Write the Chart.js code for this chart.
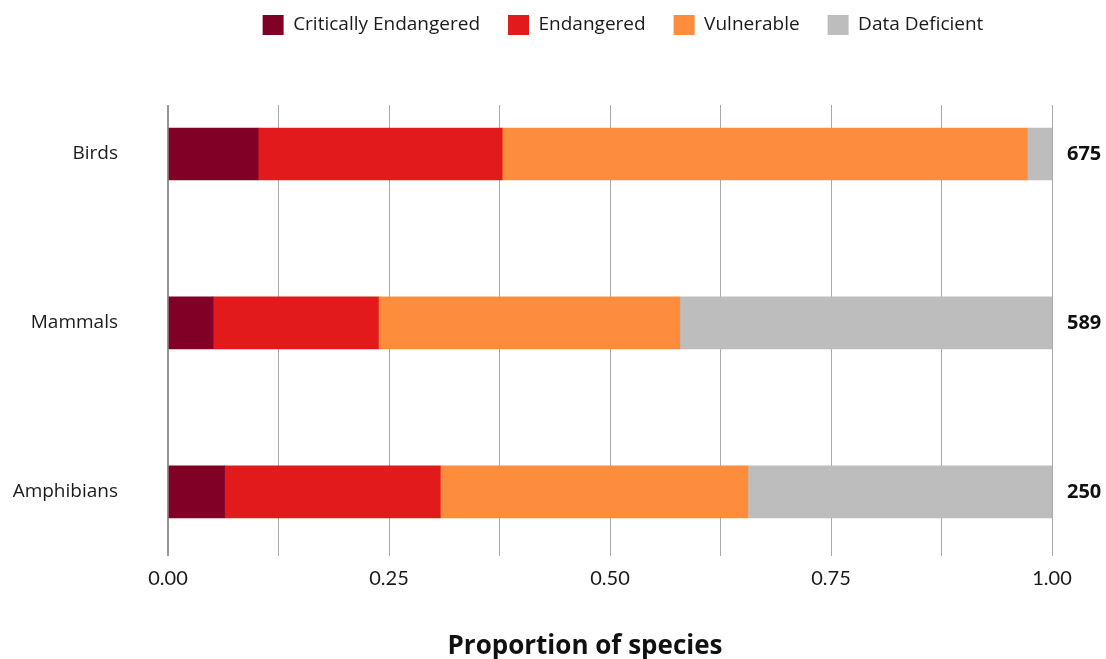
<!DOCTYPE html>
<html>
<head>
<meta charset="utf-8">
<script src="https://cdn.jsdelivr.net/npm/chart.js@4.4.1/dist/chart.umd.min.js"></script>
<style>
  body { margin: 0; background: #fff; }
  #wrap { position: relative; width: 1106px; height: 659px; }
  #xtitle {
    position: absolute; left: 0; top: 629px; width: 1170px;
    text-align: center; font: bold 26px "Open Sans", sans-serif; color: #111;
    line-height: 30px;
  }
</style>
</head>
<body>
<div id="wrap">
  <canvas id="chart" width="1106" height="659"></canvas>
  <div id="xtitle">Proportion of species</div>
</div>
<script>
const GROUPS = ["Birds", "Mammals", "Amphibians"]
const SPECIES_COUNTS = [675, 589, 250]
const CRITICALLY_ENDANGERED = [0.102, 0.051, 0.064]
const ENDANGERED = [0.276, 0.187, 0.244]
const VULNERABLE = [0.594, 0.341, 0.348]
const DATA_DEFICIENT = [0.028, 0.421, 0.344]
const X_TICK_STEP = 0.125

const COLORS = ['#800026', '#e31a1c', '#fd8d3c', '#bdbdbd']
const FONT = 'Open Sans'

const toPoints = (values)=>values.map((v, i)=>({x: v, y: i}))

const series = [
    ["Critically Endangered", CRITICALLY_ENDANGERED],
    ["Endangered", ENDANGERED],
    ["Vulnerable", VULNERABLE],
    ["Data Deficient", DATA_DEFICIENT],
]

// y is a linear index axis so the rows sit where the picture has them
const rowAxis = {
    type: 'linear',
    reverse: true,
    offset: false,
    min: -0.29,
    max: 2.38,
    grid: {display: false, drawTicks: false, offset: false},
    border: {display: false},
    afterBuildTicks: (scale)=>{
        scale.ticks = GROUPS.map((g, i)=>({value: i}))
    },
}

new Chart(document.getElementById("chart"), {
    type: 'bar',
    data: {
        datasets: series.map(([label, values], i)=>({
            label: label,
            data: toPoints(values),
            backgroundColor: COLORS[i],
            borderWidth: 0,
            barThickness: 52,
        })),
    },
    options: {
        indexAxis: 'y',
        responsive: false,
        animation: false,
        // negative right padding keeps the legend centred where the picture has it
        layout: {padding: {left: 0, right: -140, top: -13, bottom: 0}},
        plugins: {
            tooltip: {enabled: false},
            legend: {
                position: 'top',
                labels: {
                    boxWidth: 21,
                    boxHeight: 20,
                    padding: 28,
                    color: '#1a1a1a',
                    font: {family: FONT, size: 19},
                },
            },
        },
        scales: {
            x: {
                type: 'linear',
                stacked: true,
                min: 0,
                max: 1,
                grid: {
                    color: (ctx)=>ctx.tick && ctx.tick.value === 0 ? '#959595' : '#a9a9a9',
                    lineWidth: (ctx)=>ctx.tick && ctx.tick.value === 0 ? 2 : 1,
                    drawTicks: false,
                },
                border: {display: false},
                ticks: {
                    stepSize: X_TICK_STEP,
                    autoSkip: false,
                    maxRotation: 0,
                    padding: 11,
                    color: '#1a1a1a',
                    font: {family: 'Lato', size: 20},
                    callback: (v)=>Number.isInteger(v * 4) ? v.toFixed(2) : '',
                },
                afterFit: (scale)=>{ scale.height = 103 },
            },
            xTop: {
                type: 'linear',
                position: 'top',
                grid: {display: false},
                border: {display: false},
                ticks: {display: false},
                afterFit: (scale)=>{ scale.height = 60 },
            },
            y: Object.assign({}, rowAxis, {
                position: 'left',
                stacked: true,
                ticks: {
                    padding: 50,
                    color: '#1a1a1a',
                    font: {family: FONT, size: 19},
                    callback: (v)=>GROUPS[v],
                },
                afterFit: (scale)=>{ scale.width = 168 },
            }),
            yCount: Object.assign({}, rowAxis, {
                position: 'right',
                ticks: {
                    padding: 15,
                    color: '#111',
                    font: {family: FONT, size: 20, weight: 'bold'},
                    callback: (v)=>String(SPECIES_COUNTS[v]),
                },
                afterFit: (scale)=>{ scale.width = 194 },
            }),
        },
    },
})
</script>
</body>
</html>
